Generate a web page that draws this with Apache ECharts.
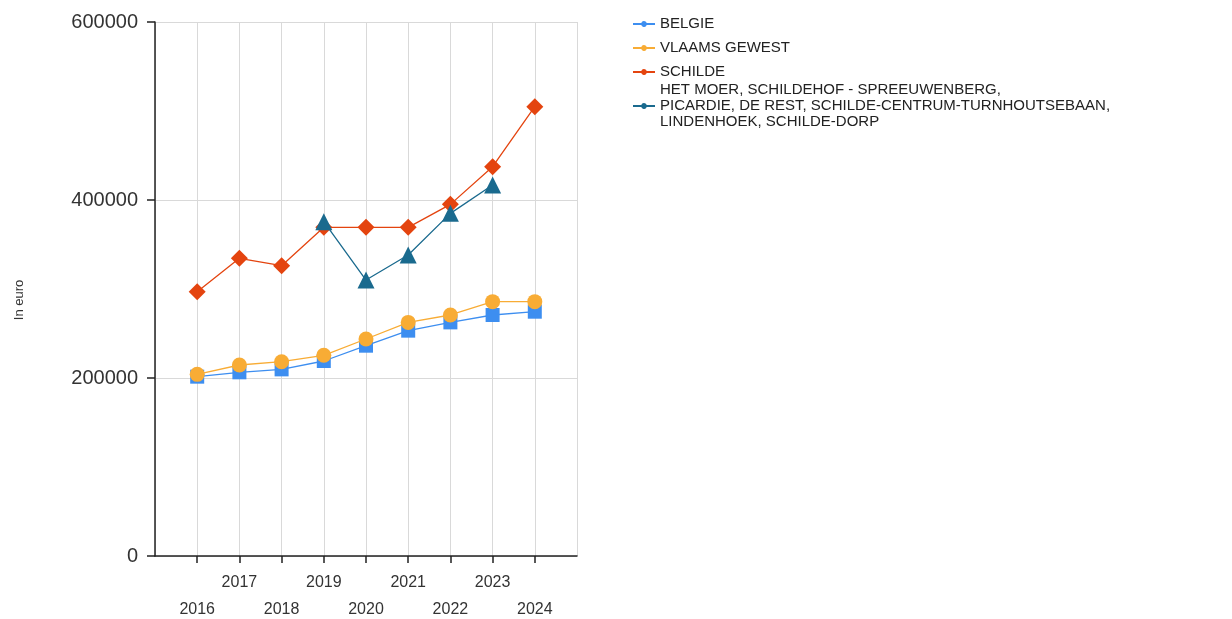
<!DOCTYPE html>
<html>
<head>
<meta charset="utf-8">
<script src="https://cdn.jsdelivr.net/npm/echarts@6/dist/echarts.min.js"></script>
<style>
html,body{margin:0;padding:0;background:#fff;}
#c{width:1232px;height:619px;}
</style>
</head>
<body>
<div id="c"></div>
<script>
const years = [2016, 2017, 2018, 2019, 2020, 2021, 2022, 2023, 2024];
const belgie = [201500, 206400, 209700, 219100, 236300, 253200, 262500, 270800, 274500];
const vlaams = [204100, 214600, 218300, 225500, 243800, 262500, 270800, 285800, 285800];
const schilde = [297000, 334500, 326200, 369300, 369300, 369300, 395100, 437400, 504900];
const wijken = [null, null, null, 375600, 310100, 338200, 385000, 416900, null];
const seriesNames = ['BELGIE', 'VLAAMS GEWEST', 'SCHILDE',
  'HET MOER, SCHILDEHOF - SPREEUWENBERG,\nPICARDIE, DE REST, SCHILDE-CENTRUM-TURNHOUTSEBAAN,\nLINDENHOEK, SCHILDE-DORP'];
const yTicks = [0, 200000, 400000, 600000];

const pairs = arr => years.map((y, i) => [y, arr[i]]);
const font = 'Liberation Sans, Arial, sans-serif';
const legendIcon = 'path://M0,2.5H11.3A4,4 0 0 1 18.7,2.5H30V5.5H18.7A4,4 0 0 1 11.3,5.5H0Z';
const legendText = {fontFamily: font, fontSize: 15, color: '#222', lineHeight: 16};

const chart = echarts.init(document.getElementById('c'));
chart.setOption({
  animation: false,
  backgroundColor: '#fff',
  grid: {left: 155, right: 655, top: 22, bottom: 63, containLabel: false, outerBoundsMode: 'none'},
  legend: [{
    orient: 'vertical', left: 628, top: 11, itemGap: 8,
    itemWidth: 22, itemHeight: 8, icon: legendIcon,
    data: seriesNames.slice(0, 3), textStyle: legendText
  }, {
    orient: 'vertical', left: 628, top: 77, itemGap: 8,
    itemWidth: 22, itemHeight: 8, icon: legendIcon,
    data: [seriesNames[3]], textStyle: legendText
  }],
  xAxis: {
    type: 'value', min: 2015, max: 2025, interval: 1,
    axisLine: {show: true, lineStyle: {color: '#222', width: 1.5}},
    axisTick: {show: true, length: 7, lineStyle: {color: '#222', width: 1.5}},
    splitLine: {show: true, lineStyle: {color: '#d9d9d9', width: 1}},
    axisLabel: {
      fontFamily: font, fontSize: 16, color: '#333', margin: 13, lineHeight: 27,
      showMinLabel: false, showMaxLabel: false, hideOverlap: false,
      formatter: v => (v < 2016 || v > 2024) ? '' : (v % 2 === 1 ? String(v) + '\n ' : ' \n' + String(v))
    }
  },
  yAxis: {
    type: 'value', min: 0, max: 600000, interval: 200000,
    name: 'In euro', nameLocation: 'middle', nameGap: 129, nameRotate: 90,
    nameTextStyle: {fontFamily: font, fontSize: 13, color: '#333', padding: [0, 22, 0, 0]},
    axisLine: {show: true, lineStyle: {color: '#222', width: 1.5}},
    axisTick: {show: true, length: 8, lineStyle: {color: '#222', width: 1.5}},
    splitLine: {show: true, lineStyle: {color: '#d9d9d9', width: 1}},
    axisLabel: {fontFamily: font, fontSize: 20, color: '#333', margin: 17,
      formatter: v => yTicks.includes(v) ? String(v) : ''}
  },
  series: [
    {name: seriesNames[0], type: 'line', data: pairs(belgie), symbol: 'rect', symbolSize: 14,
     color: '#3d8ef0', lineStyle: {width: 1.3}, z: 2},
    {name: seriesNames[1], type: 'line', data: pairs(vlaams), symbol: 'circle', symbolSize: 15,
     color: '#f8ac35', lineStyle: {width: 1.3}, z: 3},
    {name: seriesNames[2], type: 'line', data: pairs(schilde), symbol: 'diamond', symbolSize: 17,
     color: '#e4440f', lineStyle: {width: 1.3}, z: 4},
    {name: seriesNames[3], type: 'line', data: pairs(wijken), symbol: 'triangle', symbolSize: 17,
     color: '#1a6a8e', lineStyle: {width: 1.3}, z: 5, connectNulls: false}
  ]
});
</script>
</body>
</html>
